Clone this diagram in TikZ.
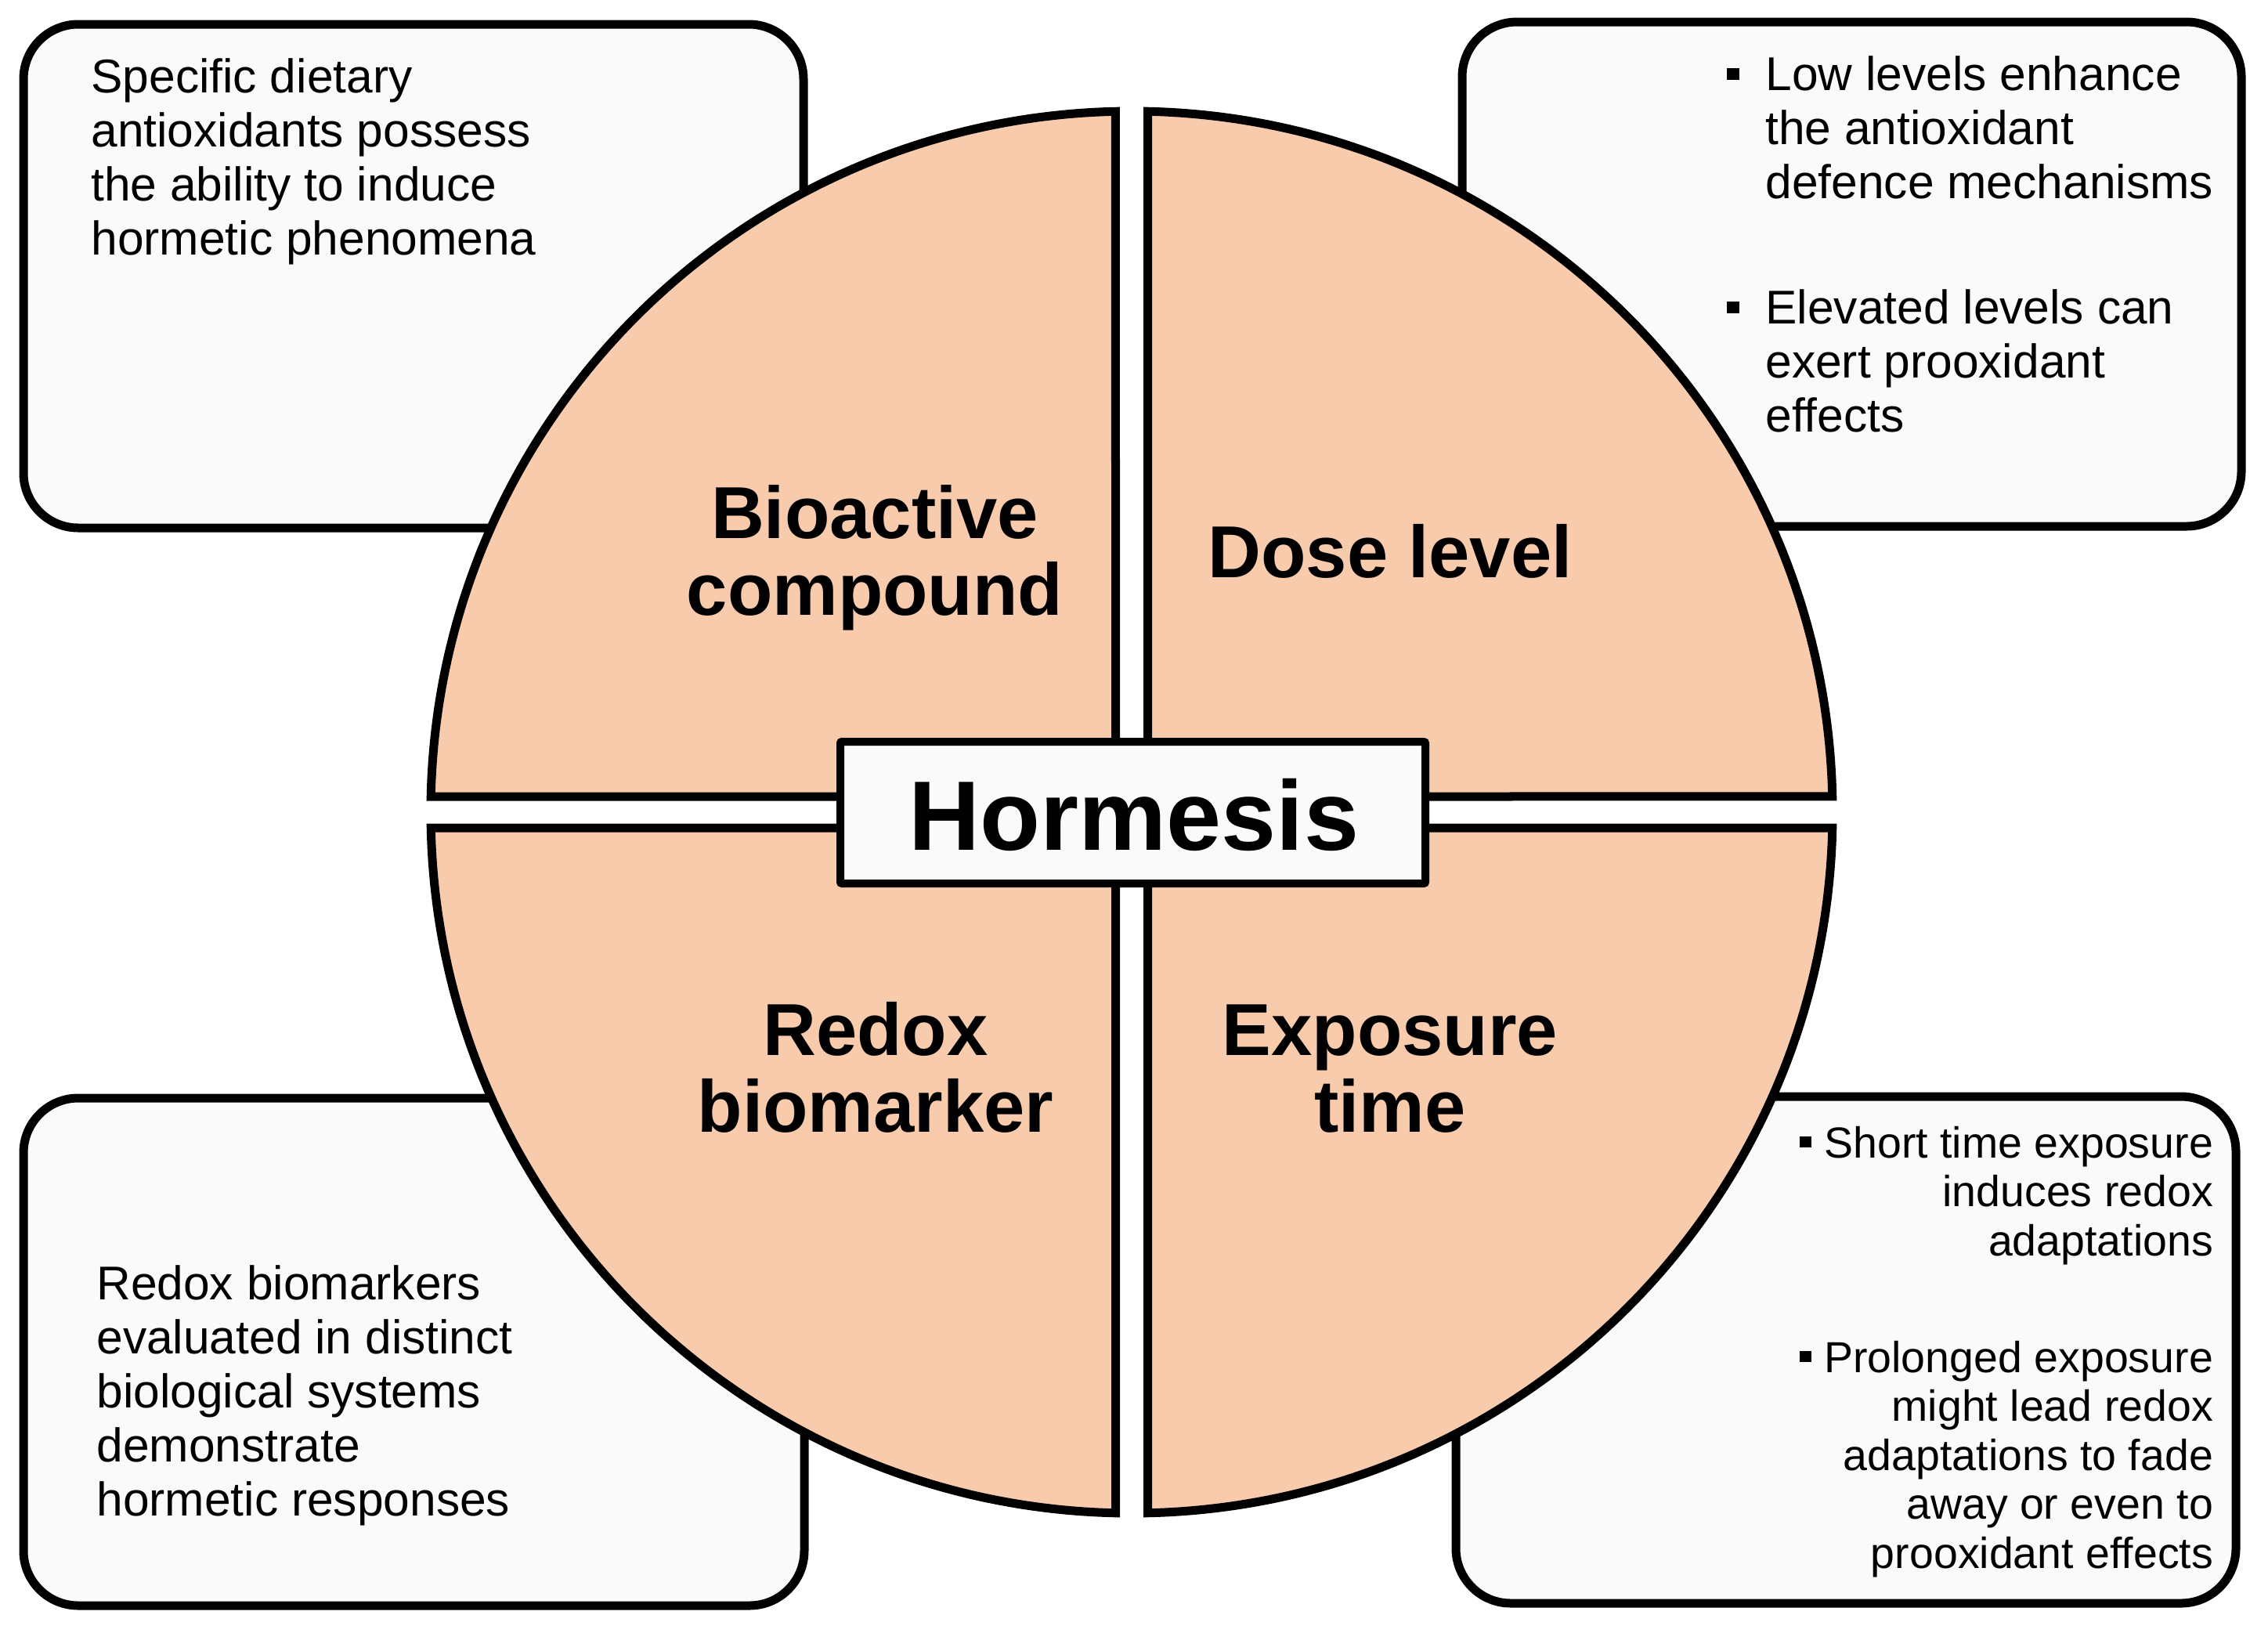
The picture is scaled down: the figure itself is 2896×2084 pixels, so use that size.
\documentclass[tikz,border=0pt]{standalone}
\usepackage{fontspec}
\setmainfont{Liberation Sans}
\definecolor{peach}{HTML}{F8CBAD}
\definecolor{boxfill}{HTML}{FAFAFA}
\newcommand{\CLine}[1]{\hbox to 0pt{\hss#1\hss}}
\newcommand{\RLine}[1]{\hbox to 0pt{\hss#1}}
\newcommand{\LLine}[1]{\hbox{#1}}
\newcommand{\hangbul}{\llap{\rule[6.5pt]{8pt}{7.5pt}\hspace{16.5pt}}}
\newcommand{\inbul}{\rule[6.5pt]{7.5pt}{7pt}\hspace{8pt}}
\begin{document}
\begin{tikzpicture}[x=0.5pt,y=-0.5pt,
  infobox/.style={draw=black, line width=5.5pt, fill=boxfill, rounded corners=35pt},
  quad/.style={draw=black, line width=5.5pt, fill=peach, line join=miter},
  hbox/.style={draw=black, line width=5pt, fill=boxfill, rounded corners=1pt},
  body/.style={inner sep=0pt, font=\fontsize{30.25}{34.6}\selectfont},
  bodysm/.style={inner sep=0pt, font=\fontsize{27.75}{31.25}\selectfont},
  qlabel/.style={inner sep=0pt, font=\fontsize{47}{49}\selectfont\bfseries},
  central/.style={inner sep=0pt, font=\fontsize{63}{70}\selectfont\bfseries}]
\useasboundingbox (0,0) rectangle (2896,2084);
\fill[white] (0,0) rectangle (2896,2084);

% side boxes
\draw[infobox] (30,31) rectangle (1026,674);
\draw[infobox] (1867,28) rectangle (2862,672);
\draw[infobox] (30,1402) rectangle (1027,2050);
\draw[infobox] (1859,1400) rectangle (2855,2047);

% quadrants
\draw[quad] (1424.5,1017) -- (550.22,1017) arc[start angle=181.2804, end angle=268.6876, radius=895] -- cycle;
\draw[quad] (1465.5,1017) -- (1465.5,142.23) arc[start angle=271.3124, end angle=358.7196, radius=895] -- cycle;
\draw[quad] (1424.5,1057) -- (1424.5,1931.77) arc[start angle=91.3124, end angle=178.7196, radius=895] -- cycle;
\draw[quad] (1465.5,1057) -- (2339.78,1057) arc[start angle=1.2804, end angle=88.6876, radius=895] -- cycle;

% central box
\draw[hbox] (1073,947) rectangle (1820,1128);
\node[central, anchor=base] (hormesis) at (1448,1085) {Hormesis};

% quadrant labels
\node[qlabel, anchor=base] (bio) at (1117,687) {\vtop{\CLine{Bioactive}\CLine{compound}}};
\node[qlabel, anchor=base] (dose) at (1775,737) {Dose level};
\node[qlabel, anchor=base] (redox) at (1118,1347) {\vtop{\CLine{Redox}\CLine{biomarker}}};
\node[qlabel, anchor=base] (expo) at (1775,1347) {\vtop{\CLine{Exposure}\CLine{time}}};

% box texts
\node[body, anchor=base west] (tltext) at (116,118)
  {\vtop{\LLine{Specific dietary}\LLine{antioxidants possess}\LLine{the ability to induce}\LLine{hormetic phenomena}}};
\node[body, anchor=base west] (trtexta) at (2254,115)
  {\vtop{\LLine{\hangbul Low levels enhance}\LLine{the antioxidant}\LLine{defence mechanisms}}};
\node[body, anchor=base west] (trtextb) at (2254,413)
  {\vtop{\LLine{\hangbul Elevated levels can}\LLine{exert prooxidant}\LLine{effects}}};
\node[body, anchor=base west] (bltext) at (123,1659)
  {\vtop{\LLine{Redox biomarkers}\LLine{evaluated in distinct}\LLine{biological systems}\LLine{demonstrate}\LLine{hormetic responses}}};
\node[bodysm, anchor=base] (brtexta) at (2826,1478)
  {\vtop{\RLine{\inbul Short time exposure}\RLine{induces redox}\RLine{adaptations}}};
\node[bodysm, anchor=base] (brtextb) at (2826,1752)
  {\vtop{\RLine{\inbul Prolonged exposure}\RLine{might lead redox}\RLine{adaptations to fade}\RLine{away or even to}\RLine{prooxidant effects}}};
\end{tikzpicture}
\end{document}
